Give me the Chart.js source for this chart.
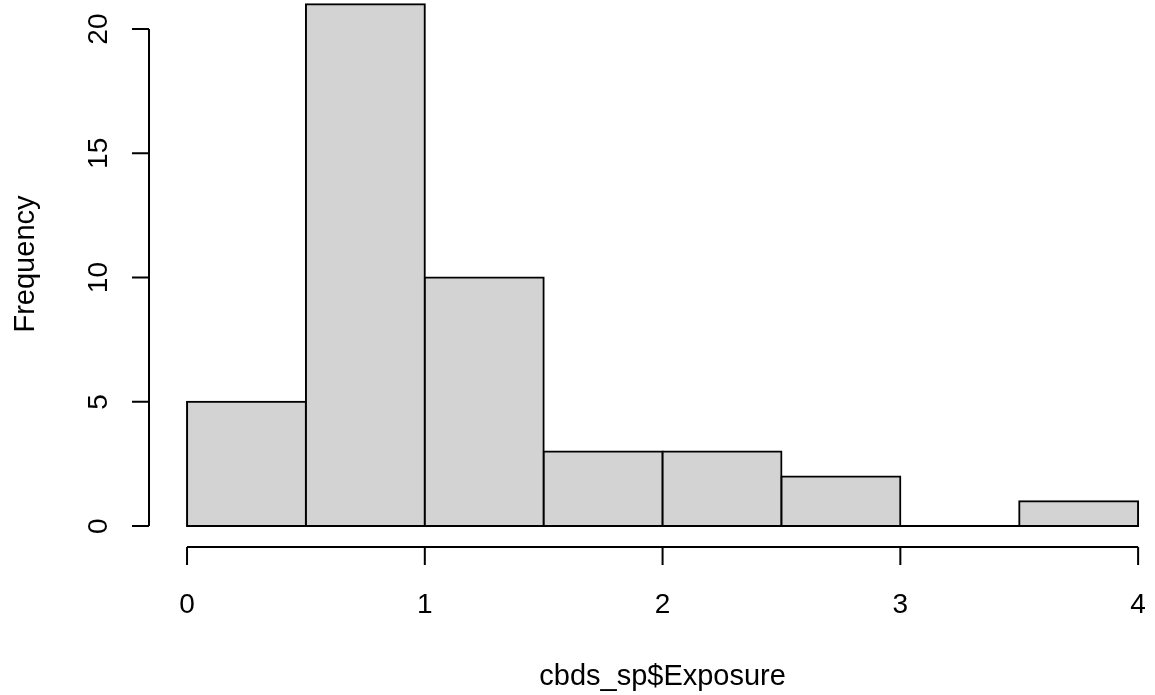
<!DOCTYPE html>
<html>
<head>
<meta charset="utf-8">
<script src="https://cdn.jsdelivr.net/npm/chart.js@4"></script>
<style>
html,body{margin:0;padding:0;background:#fff;}
#wrap{width:1155px;height:695px;}
</style>
</head>
<body>
<div id="wrap"><canvas id="c" width="1155" height="695"></canvas></div>
<script>
// ---- data ----
const binEdges = [0, 0.5, 1, 1.5, 2, 2.5, 3, 3.5, 4];
const counts = [5, 21, 10, 3, 3, 2, 0, 1];
const xTicks = [0, 1, 2, 3, 4];
const yTicks = [0, 5, 10, 15, 20];
const xTitle = 'cbds_sp$Exposure';
const yTitle = 'Frequency';

const points = counts.map((c, i) => ({ x: (binEdges[i] + binEdges[i + 1]) / 2, y: c }));

const TICK_FONT = '28px "Liberation Sans", Arial, sans-serif';
const TITLE_FONT = '29px "Liberation Sans", Arial, sans-serif';

const rAxes = {
  id: 'rAxes',
  afterDraw(chart) {
    const ctx = chart.ctx;
    const xs = chart.scales.x, ys = chart.scales.y;
    const ca = chart.chartArea;
    ctx.save();
    ctx.strokeStyle = '#000';
    ctx.fillStyle = '#000';
    ctx.lineWidth = 2;
    ctx.font = TICK_FONT;
    // y axis
    const ax = ca.left;
    ctx.beginPath();
    ctx.moveTo(ax, ys.getPixelForValue(yTicks[0]));
    ctx.lineTo(ax, ys.getPixelForValue(yTicks[yTicks.length - 1]));
    yTicks.forEach(v => {
      const p = ys.getPixelForValue(v);
      ctx.moveTo(ax, p);
      ctx.lineTo(ax - 17, p);
    });
    ctx.stroke();
    ctx.textAlign = 'center';
    ctx.textBaseline = 'alphabetic';
    yTicks.forEach(v => {
      const p = ys.getPixelForValue(v);
      ctx.save();
      ctx.translate(ax - 42, p);
      ctx.rotate(-Math.PI / 2);
      ctx.fillText(String(v), 0, 0);
      ctx.restore();
    });
    // x axis
    const ay = ca.bottom;
    ctx.beginPath();
    ctx.moveTo(xs.getPixelForValue(xTicks[0]), ay);
    ctx.lineTo(xs.getPixelForValue(xTicks[xTicks.length - 1]), ay);
    xTicks.forEach(v => {
      const p = xs.getPixelForValue(v);
      ctx.moveTo(p, ay);
      ctx.lineTo(p, ay + 18);
    });
    ctx.stroke();
    xTicks.forEach(v => {
      ctx.fillText(String(v), xs.getPixelForValue(v), ay + 66);
    });
    // titles
    ctx.font = TITLE_FONT;
    const midX = xs.getPixelForValue((xTicks[0] + xTicks[xTicks.length - 1]) / 2);
    ctx.fillText(xTitle, midX, ay + 138);
    ctx.save();
    ctx.translate(34, 264);
    ctx.rotate(-Math.PI / 2);
    ctx.fillText(yTitle, 0, 0);
    ctx.restore();
    ctx.restore();
  }
};

new Chart(document.getElementById('c'), {
  type: 'bar',
  data: {
    datasets: [{
      data: points,
      backgroundColor: (c) => (c.raw && c.raw.y === 0 ? '#000' : '#d3d3d3'),
      borderColor: '#000',
      borderWidth: (c) => (c.raw && c.raw.y === 0 ? 0 : 2),
      inflateAmount: (c) => (c.raw && c.raw.y === 0 ? 0 : 1),
      borderSkipped: false,
      minBarLength: 2,
      barPercentage: 1,
      categoryPercentage: 1
    }]
  },
  plugins: [rAxes],
  options: {
    responsive: false,
    animation: false,
    devicePixelRatio: 1,
    layout: { padding: { left: 149, right: 5, top: 0, bottom: 148 } },
    plugins: { legend: { display: false }, tooltip: { enabled: false }, title: { display: false } },
    scales: {
      x: {
        type: 'linear',
        display: false,
        offset: false,
        min: -0.16,
        max: 4.05,
        afterBuildTicks: (s) => { s.ticks = xTicks.map(v => ({ value: v })); },
        grid: { display: false }
      },
      y: {
        type: 'linear',
        display: false,
        min: -0.84,
        max: 21.17,
        grid: { display: false }
      }
    }
  }
});
</script>
</body>
</html>
